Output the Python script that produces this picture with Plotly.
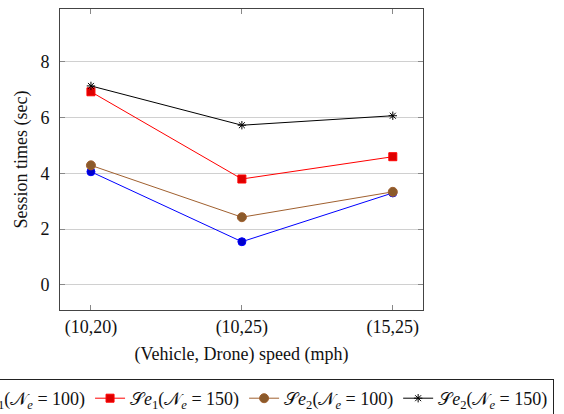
import plotly.graph_objects as go

categories = ["(10,20)", "(10,25)", "(15,25)"]
se1_100 = [4.06, 1.55, 3.30]
se1_150 = [6.93, 3.80, 4.60]
se2_100 = [4.29, 2.43, 3.34]
se2_150 = [7.14, 5.73, 6.07]
names = [
    "𝒮<i>e</i><sub>1</sub>(𝒩<sub><i>e</i></sub> = 100)",
    "𝒮<i>e</i><sub>1</sub>(𝒩<sub><i>e</i></sub> = 150)",
    "𝒮<i>e</i><sub>2</sub>(𝒩<sub><i>e</i></sub> = 100)",
    "𝒮<i>e</i><sub>2</sub>(𝒩<sub><i>e</i></sub> = 150)",
]
y_ticks = [0, 2, 4, 6, 8]

FONT = "Liberation Serif"
xs = list(range(len(categories)))

# Plot area in the 564x414 window: x 60..423, y 9..310.
W, H = 760, 414
L, T, PW, PH = 60, 9, 363, 301

fig = go.Figure()
styles = [
    (se1_100, "#0000ff", dict(symbol="circle", size=8, color="#0000cc", line=dict(color="#0000ff", width=1))),
    (se1_150, "#ff0000", dict(symbol="square", size=8, color="#dd0000", line=dict(color="#ff0000", width=1))),
    (se2_100, "#a0602f", dict(symbol="circle", size=9, color="#8b5a2b", line=dict(color="#a0602f", width=1))),
    (se2_150, "#000000", dict(symbol="asterisk-open", size=7, color="#000000", line=dict(color="#000000", width=1))),
]
for (vals, lc, mk), nm in zip(styles, names):
    fig.add_trace(go.Scatter(x=xs, y=vals, mode="lines+markers", name=nm,
                             line=dict(color=lc, width=1), marker=mk))

fig.update_layout(
    width=W, height=H,
    margin=dict(l=L, r=W - L - PW, t=T, b=H - T - PH, autoexpand=False),
    paper_bgcolor="white", plot_bgcolor="white",
    font=dict(family=FONT, size=18, color="#111"),
    showlegend=True,
    legend=dict(orientation="h", x=(554 - L) / PW, y=-(379 - (T + PH)) / PH,
                xanchor="right", yanchor="top",
                bordercolor="#222", borderwidth=1, font=dict(size=18, family=FONT),
                itemwidth=30, tracegroupgap=0),
    xaxis=dict(range=[-0.205, 2.2], tickvals=xs, ticktext=categories,
               showgrid=False, zeroline=False, showline=True, linecolor="#444", linewidth=1,
               mirror="ticks", ticks="inside", ticklen=5, tickcolor="#888",
               title=dict(text="(Vehicle, Drone) speed (mph)", standoff=10, font=dict(size=18))),
    yaxis=dict(range=[-0.9, 9.9], tickvals=y_ticks,
               showgrid=True, gridcolor="#d0d0d0", gridwidth=1, zeroline=False,
               showline=True, linecolor="#444", linewidth=1,
               mirror="ticks", ticks="inside", ticklen=5, tickcolor="#888",
               ticklabelstandoff=6,
               title=dict(text="Session times (sec)", standoff=8, font=dict(size=18))),
)
post = ("document.documentElement.style.overflow='hidden';"
        "document.body.style.margin='0';document.body.style.overflow='hidden';")
fig.write_html("out.html", post_script=post, config={"displayModeBar": False})
